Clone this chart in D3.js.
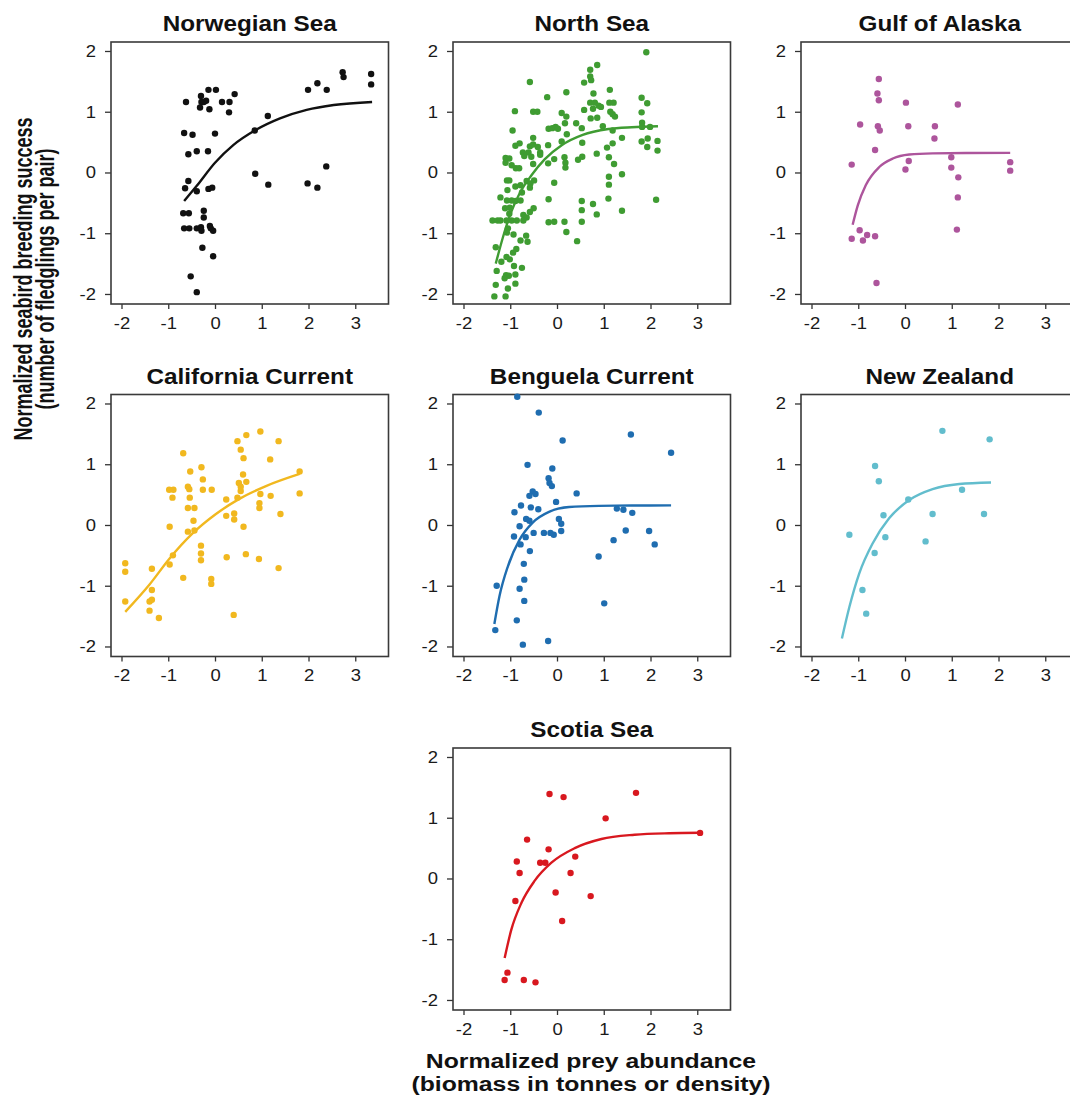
<!DOCTYPE html>
<html><head><meta charset="utf-8">
<script src="https://cdn.jsdelivr.net/npm/d3@7"></script>
<style>body{margin:0;background:#fff} svg{display:block}</style>
</head><body><svg id="c" width="1070" height="1100"></svg>
<script>
const regions = ["Norwegian Sea","North Sea","Gulf of Alaska","California Current","Benguela Current","New Zealand","Scotia Sea"];
const xTicks = [-2,-1,0,1,2,3];
const yTicks = [-2,-1,0,1,2];
const yTitle = ["Normalized seabird breeding success","(number of fledglings per pair)"];
const xTitle = ["Normalized prey abundance","(biomass in tonnes or density)"];

const norwegianPts = [[-0.62,1.16],[-0.30,1.26],[-0.29,1.16],[-0.19,1.18],[-0.24,1.16],[-0.32,1.07],[-0.14,1.36],[0.02,1.36],[-0.12,1.04],[0.15,1.16],[0.31,1.16],[0.42,1.29],[0.30,0.99],[-0.66,0.65],[-0.48,0.62],[0.0,0.64],[-0.57,0.30],[-0.39,0.35],[-0.15,0.35],[-0.57,-0.14],[-0.64,-0.26],[-0.39,-0.31],[-0.14,-0.27],[-0.06,-0.25],[-0.68,-0.67],[-0.56,-0.67],[-0.24,-0.63],[-0.24,-0.74],[-0.66,-0.92],[-0.55,-0.92],[-0.39,-0.92],[-0.30,-0.90],[-0.29,-0.96],[-0.11,-0.88],[-0.09,-0.92],[-0.04,-0.96],[-0.27,-1.24],[-0.04,-1.38],[-0.52,-1.71],[-0.39,-1.97],[0.85,0.69],[1.13,0.93],[0.86,-0.02],[1.14,-0.20],[1.99,1.36],[2.19,1.47],[2.39,1.36],[2.38,0.10],[1.98,-0.18],[2.19,-0.25],[2.73,1.65],[2.75,1.57],[3.34,1.62],[3.34,1.45]];
const norwegianFit = [[-0.66,-0.47],[-0.39,-0.22],[0,0.16],[0.39,0.45],[0.85,0.69],[1.39,0.89],[1.96,1.03],[2.54,1.11],[3.36,1.16]];

const northSeaPts = [[1.91,1.98],[0.86,1.77],[0.71,1.69],[0.71,1.58],[0.73,1.52],[0.58,1.48],[-0.58,1.49],[1.13,1.36],[0.20,1.32],[0.78,1.30],[-0.21,1.24],[1.81,1.23],[1.93,1.14],[0.71,1.15],[0.81,1.15],[1.12,1.15],[1.21,1.15],[0.89,1.10],[0.94,1.08],[0.77,1.05],[0.58,1.03],[-0.90,1.01],[-0.51,1.0],[-0.42,1.0],[0.10,0.98],[1.14,1.0],[1.19,0.96],[1.24,0.92],[1.81,0.99],[0.20,0.92],[0.72,0.89],[0.86,0.90],[0.41,0.81],[0.17,0.81],[1.82,0.82],[1.82,0.75],[-0.95,0.69],[-0.18,0.72],[-0.10,0.73],[-0.03,0.75],[0.02,0.72],[0.53,0.73],[0.98,0.76],[1.19,0.69],[1.99,0.75],[0.21,0.63],[-0.51,0.57],[1.39,0.57],[1.81,0.51],[1.94,0.56],[1.93,0.42],[2.15,0.52],[2.15,0.36],[-0.80,0.48],[-0.89,0.44],[-0.58,0.43],[-0.51,0.46],[-0.41,0.42],[-0.61,0.33],[-0.73,0.33],[-0.70,0.27],[-0.55,0.26],[-0.36,0.33],[-0.36,0.29],[-0.19,0.45],[0.10,0.51],[0.54,0.49],[1.19,0.48],[1.07,0.41],[0.85,0.31],[0.54,0.26],[0.45,0.21],[-0.06,0.22],[-0.19,0.15],[0.16,0.25],[0.18,0.16],[0.18,0.08],[1.11,0.25],[1.22,0.14],[-1.10,0.24],[-1.02,0.23],[-1.10,0.16],[-0.97,0.12],[-0.51,0.14],[-0.88,0.07],[-0.81,0.07],[1.39,-0.03],[1.11,-0.07],[1.11,-0.20],[-1.07,-0.13],[-1.02,-0.13],[-0.65,-0.14],[-0.57,-0.18],[-0.49,-0.13],[-0.58,-0.25],[-0.89,-0.23],[-0.78,-0.21],[-1.06,-0.29],[-0.75,-0.33],[-0.06,-0.17],[-1.21,-0.41],[-1.07,-0.46],[-0.97,-0.46],[-0.89,-0.47],[-0.78,-0.46],[-0.18,-0.44],[0.53,-0.47],[1.10,-0.43],[0.77,-0.52],[2.12,-0.45],[0.53,-0.62],[0.85,-0.69],[1.39,-0.63],[-1.11,-0.59],[-1.01,-0.58],[-0.50,-0.59],[-0.58,-0.65],[-1.02,-0.68],[-0.72,-0.70],[-0.65,-0.74],[-0.72,-0.79],[-1.38,-0.79],[-1.27,-0.79],[-1.21,-0.79],[-1.08,-0.79],[-0.97,-0.79],[-0.86,-0.79],[-0.18,-0.82],[-0.06,-0.81],[0.16,-0.81],[0.53,-0.81],[-1.05,-0.92],[-1.07,-0.99],[0.20,-0.98],[-0.93,-1.02],[-0.66,-1.04],[-0.78,-1.12],[-0.63,-1.14],[0.43,-1.13],[-1.31,-1.23],[-0.87,-1.26],[-0.94,-1.32],[-1.08,-1.39],[-1.01,-1.43],[-1.19,-1.47],[-0.75,-1.57],[-0.92,-1.54],[-1.29,-1.62],[-1.09,-1.69],[-1.03,-1.70],[-1.12,-1.74],[-0.89,-1.68],[-0.89,-1.83],[-1.31,-1.85],[-1.05,-1.91],[-1.34,-2.04],[-1.10,-2.04]];
const northSeaFit = [[-1.31,-1.50],[-1.15,-1.05],[-0.98,-0.65],[-0.79,-0.33],[-0.55,-0.05],[-0.26,0.22],[0.10,0.45],[0.55,0.62],[1.10,0.715],[1.60,0.745],[2.16,0.76]];

const alaskaPts = [[-0.56,1.54],[-0.59,1.30],[-0.56,1.19],[0.02,1.15],[1.13,1.12],[-0.96,0.79],[-0.58,0.76],[-0.54,0.69],[0.07,0.76],[0.64,0.76],[0.63,0.56],[-0.64,0.37],[0.99,0.25],[0.08,0.19],[2.25,0.17],[-1.14,0.13],[0.01,0.05],[0.99,0.08],[2.25,0.03],[1.14,-0.08],[1.13,-0.41],[1.11,-0.94],[-0.97,-0.95],[-1.14,-1.09],[-0.90,-1.12],[-0.81,-1.03],[-0.64,-1.05],[-0.61,-1.82]];
const alaskaFit = [[-1.12,-0.86],[-1.01,-0.54],[-0.84,-0.21],[-0.55,0.09],[-0.26,0.23],[0.09,0.295],[0.59,0.315],[1.30,0.32],[2.25,0.322]];

const californiaPts = [[0.97,1.54],[0.67,1.48],[0.48,1.38],[1.36,1.38],[0.55,1.24],[0.61,1.10],[1.18,1.08],[-0.68,1.18],[-0.29,0.95],[-0.53,0.88],[1.81,0.88],[0.60,0.83],[-0.26,0.75],[0.51,0.69],[0.67,0.71],[0.55,0.63],[0.55,0.56],[-0.58,0.63],[-0.55,0.59],[-0.98,0.58],[-0.89,0.58],[-0.26,0.58],[-0.07,0.58],[-0.91,0.45],[-0.54,0.45],[0.48,0.45],[0.24,0.42],[0.97,0.51],[1.19,0.48],[1.81,0.52],[-0.58,0.28],[-0.44,0.28],[0.95,0.36],[0.95,0.28],[0.24,0.15],[0.41,0.19],[0.41,0.09],[1.40,0.18],[-0.46,0.07],[-0.97,-0.03],[0.61,-0.03],[-0.58,-0.11],[-0.44,-0.09],[-0.30,-0.34],[-0.30,-0.47],[-0.30,-0.58],[-0.90,-0.50],[-0.97,-0.65],[0.25,-0.53],[0.66,-0.48],[0.94,-0.56],[1.36,-0.71],[-1.35,-0.72],[-0.68,-0.87],[-0.08,-0.89],[-0.08,-0.97],[-1.92,-0.63],[-1.92,-0.77],[-1.35,-1.07],[-1.92,-1.26],[-1.40,-1.26],[-1.35,-1.23],[-1.40,-1.41],[-1.20,-1.53],[0.40,-1.48]];
const californiaFit = [[-1.92,-1.43],[-1.40,-0.98],[-0.98,-0.56],[-0.48,-0.14],[0.02,0.18],[0.52,0.43],[1.09,0.64],[1.81,0.84]];

const benguelaPts = [[-0.85,2.11],[-0.39,1.85],[0.12,1.39],[1.58,1.49],[2.44,1.19],[-0.63,0.99],[-0.10,0.93],[-0.18,0.77],[-0.16,0.69],[-0.11,0.64],[-0.52,0.55],[-0.46,0.51],[-0.59,0.48],[0.42,0.52],[-0.02,0.38],[-0.77,0.32],[-0.56,0.29],[-0.40,0.26],[-0.91,0.21],[-0.66,0.10],[-0.59,0.07],[-0.80,-0.02],[0.04,0.10],[0.09,0.02],[0.09,-0.10],[-0.50,-0.13],[-0.28,-0.13],[-0.14,-0.13],[-0.07,-0.16],[-0.92,-0.19],[-0.67,-0.20],[-0.78,-0.32],[-0.58,-0.43],[1.28,0.27],[1.42,0.25],[1.61,0.20],[1.47,-0.09],[1.97,-0.10],[1.21,-0.25],[2.09,-0.32],[0.89,-0.52],[1.01,-1.29],[-0.71,-0.64],[-0.70,-0.90],[-1.29,-1.00],[-0.80,-1.05],[-0.70,-1.25],[-0.86,-1.57],[-1.32,-1.73],[-0.73,-1.97],[-0.19,-1.91]];
const benguelaFit = [[-1.34,-1.63],[-1.23,-1.17],[-1.05,-0.68],[-0.80,-0.24],[-0.52,0.04],[-0.16,0.22],[0.26,0.295],[0.90,0.315],[1.60,0.32],[2.44,0.322]];

const newZealandPts = [[0.80,1.55],[1.81,1.41],[-0.64,0.97],[-0.56,0.72],[1.22,0.58],[0.07,0.42],[-0.46,0.16],[0.59,0.18],[1.69,0.18],[-1.19,-0.16],[-0.42,-0.20],[0.44,-0.27],[-0.65,-0.46],[-0.91,-1.07],[-0.83,-1.46]];
const newZealandFit = [[-1.35,-1.87],[-1.19,-1.35],[-0.98,-0.80],[-0.69,-0.30],[-0.34,0.11],[0.09,0.41],[0.59,0.59],[1.16,0.675],[1.84,0.70]];

const scotiaPts = [[-0.16,1.39],[0.14,1.34],[1.69,1.41],[1.04,0.99],[3.06,0.75],[-0.64,0.64],[-0.18,0.48],[0.39,0.36],[-0.86,0.28],[-0.36,0.26],[-0.25,0.26],[-0.80,0.09],[0.29,0.09],[-0.03,-0.23],[0.72,-0.29],[-0.89,-0.37],[0.11,-0.70],[-1.06,-1.55],[-1.12,-1.67],[-0.71,-1.67],[-0.46,-1.71]];
const scotiaFit = [[-1.12,-1.31],[-0.98,-0.85],[-0.76,-0.40],[-0.48,-0.04],[-0.12,0.26],[0.38,0.50],[0.95,0.65],[1.66,0.72],[2.40,0.745],[3.06,0.752]];

const seriesPts = [norwegianPts, northSeaPts, alaskaPts, californiaPts, benguelaPts, newZealandPts, scotiaPts];
const seriesFit = [norwegianFit, northSeaFit, alaskaFit, californiaFit, benguelaFit, newZealandFit, scotiaFit];

// styling / layout
const colors = ["#111111","#3f9c32","#ad559c","#f1b81f","#1f6db0","#62bdcd","#d8181f"];
const panelPos = [[111,42],[453,42],[801,42],[111,394.5],[453,394.5],[801,394.5],[453,748]];
const PW = 277.5, PH = 262;
const FONT = "'Liberation Sans', Arial, Helvetica, sans-serif";
const SX = 1.12;

const svg = d3.select("#c");
svg.append("rect").attr("width",1070).attr("height",1100).attr("fill","#fff");

const x = d3.scaleLinear().domain([-2.2246, 3.711]).range([0, PW]);
const y = d3.scaleLinear().domain([-2.165, 2.148]).range([PH, 0]);
const line = d3.line().x(d => x(d[0])).y(d => y(d[1])).curve(d3.curveMonotoneX);

function stretchTexts(sel, sx){
  sel.selectAll("text").each(function(){
    const t = d3.select(this);
    const tx = +t.attr("x") || 0;
    t.attr("x", 0).attr("transform", `translate(${tx},0) scale(${sx},1)`);
  });
}

regions.forEach((name, i) => {
  const [L, T] = panelPos[i];
  const g = svg.append("g").attr("transform", `translate(${L},${T})`);

  const gx = g.append("g").attr("transform", `translate(0,${PH})`)
    .call(d3.axisBottom(x).tickValues(xTicks).tickSize(5).tickPadding(8).tickFormat(d => String(d)));
  const gy = g.append("g")
    .call(d3.axisLeft(y).tickValues(yTicks).tickSize(6).tickPadding(9).tickFormat(d => String(d)));
  [gx, gy].forEach(a => {
    a.select(".domain").remove();
    a.selectAll("line").attr("stroke","#333").attr("stroke-width",1.3);
    a.selectAll("text").attr("font-family",FONT).attr("font-size",16.5).attr("fill","#1a1a1a");
    stretchTexts(a, SX);
  });

  g.append("rect").attr("width",PW).attr("height",PH).attr("fill","none")
    .attr("stroke","#3a3a3a").attr("stroke-width",1.6);

  g.append("g").selectAll("circle").data(seriesPts[i]).join("circle")
    .attr("cx", d => x(d[0])).attr("cy", d => y(d[1])).attr("r", 3.2)
    .attr("fill", colors[i]);

  g.append("path").datum(seriesFit[i]).attr("d", line)
    .attr("fill","none").attr("stroke",colors[i]).attr("stroke-width",2.4);

  g.append("text").attr("transform", `translate(${PW/2},${-11}) scale(1.13,1)`)
    .attr("text-anchor","middle").attr("font-family",FONT).attr("font-weight","bold")
    .attr("font-size",21.5).attr("fill","#111").text(name);
});

// y-axis title
[32, 54].forEach((bx, k) => {
  svg.append("text").attr("transform", `translate(${bx},279) rotate(-90) scale(1,1.38)`)
    .attr("text-anchor","middle").attr("font-family",FONT).attr("font-weight","bold")
    .attr("font-size",18).attr("fill","#111").text(yTitle[k]);
});

// x-axis title
[1068, 1091].forEach((by, k) => {
  svg.append("text").attr("transform", `translate(591,${by}) scale(1.18,1)`)
    .attr("text-anchor","middle").attr("font-family",FONT).attr("font-weight","bold")
    .attr("font-size",21).attr("fill","#111").text(xTitle[k]);
});
</script></body></html>
